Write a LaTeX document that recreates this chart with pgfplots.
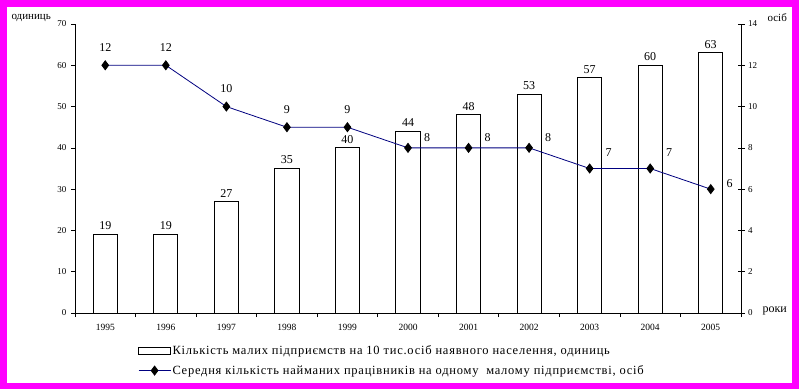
\documentclass[border=0pt]{standalone}
\usepackage{pgfplots}
\pgfplotsset{compat=1.18}
\usepackage{pgfplotstable}
\usepackage{fontspec}
\setmainfont{Liberation Serif}
\newfontfamily\legfont[LetterSpace=6]{Liberation Serif}
\definecolor{mag}{RGB}{255,0,255}
\definecolor{navyline}{RGB}{0,0,128}

\pgfplotstableread{
x y
0 19
1 19
2 27
3 35
4 40
5 44
6 48
7 53
8 57
9 60
10 63
}\bars

\pgfplotstableread{
x y dx dy
0 12 0 18
1 12 0 18
2 10 0 18
3 9 0 18
4 9 0 18
5 8 19 10
6 8 19 10
7 8 19 10
8 7 19 16
9 7 19 16
10 6 19 6
}\line

\begin{document}
\begin{tikzpicture}[x=1pt,y=1pt]
\fill[mag] (0,0) rectangle (799,389);
\fill[white] (7,6) rectangle (792,382);
\begin{axis}[
  at={(75pt,76pt)}, anchor=south west, scale only axis,
  width=666pt, height=289pt,
  xmin=-0.5, xmax=10.5, ymin=0, ymax=70,
  axis lines*=left,
  axis line style={line width=0.8pt},
  /pgf/number format/assume math mode=true,
  ytick={0,10,...,70},
  xtick={-0.5,0.5,...,10.5},
  x tick label as interval,
  xticklabels={1995,1996,1997,1998,1999,2000,2001,2002,2003,2004,2005},
  tick align=outside, major tick length=4pt,
  tick style={black, line width=0.7pt},
  yticklabel style={font=\fontsize{9}{9}\selectfont, xshift=-1pt},
  xticklabel style={font=\fontsize{9.5}{9.5}\selectfont, yshift=-4pt},
  clip=false,
]
\addplot[ybar, bar width=0.4, bar shift=0pt, draw=black, line width=0.9pt, fill=white,
  nodes near coords,
  every node near coord/.append style={font=\fontsize{12}{12}\selectfont, anchor=south, inner sep=1pt, yshift=3pt}]
  table[x=x,y=y]{\bars};
\end{axis}
\begin{axis}[
  at={(75pt,76pt)}, anchor=south west, scale only axis,
  width=666pt, height=289pt,
  xmin=-0.5, xmax=10.5, ymin=0, ymax=14,
  axis y line*=right, axis x line=none,
  axis line style={line width=0.8pt},
  /pgf/number format/assume math mode=true,
  ytick={0,2,...,14},
  tick align=center, major tick length=7pt,
  tick style={black, line width=0.7pt},
  yticklabel style={font=\fontsize{9}{9}\selectfont},
  clip=false,
  legend style={at={(0.0946,-0.108)}, anchor=north west, draw=none, fill=none,
    font=\legfont\fontsize{12.5}{13}\selectfont, row sep=6pt, inner sep=0pt,
    nodes={inner sep=1.5pt}},
  legend cell align=left,
]
\addlegendimage{legend image code/.code={\draw[black, line width=0.8pt, fill=white] (0pt,-3.5pt) rectangle (32pt,3.5pt);}}
\addlegendentry{Кількість малих підприємств на 10 тис.осіб наявного населення, одиниць}
\addplot[navyline, line width=0.8pt, mark=diamond*, mark size=4.5pt, mark options={black, fill=black},
  legend image code/.code={\draw[mark repeat=2, mark phase=2] plot coordinates {(0pt,0pt) (16pt,0pt) (32pt,0pt)};}]
  table[x=x,y=y]{\line};
\addlegendentry{Середня кількість найманих працівників на одному \ малому підприємстві, осіб}
\addplot[draw=none, mark=none, forget plot,
  visualization depends on=\thisrow{dx}\as\dxv,
  visualization depends on=\thisrow{dy}\as\dyv,
  nodes near coords,
  every node near coord/.append style={font=\fontsize{12}{12}\selectfont, anchor=center, inner sep=0pt, xshift=\dxv pt, yshift=\dyv pt}]
  table[x=x,y=y]{\line};
\end{axis}
\node[anchor=west, font=\fontsize{11}{11}\selectfont] at (8,371) {одиниць};
\node[anchor=west, font=\fontsize{11}{11}\selectfont] at (764,371) {осіб};
\node[anchor=west, font=\fontsize{12}{12}\selectfont] at (759,78) {роки};
\end{tikzpicture}
\end{document}
